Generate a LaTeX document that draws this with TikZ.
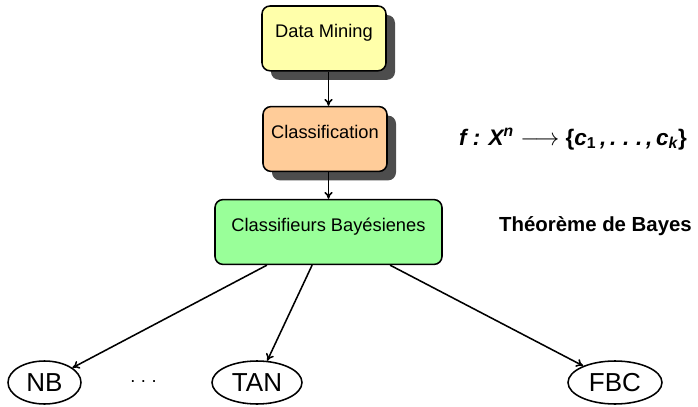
\documentclass[tikz,border=0pt]{standalone}
\usepackage{fontspec}
\setmainfont{Liberation Sans}
\usepackage{xcolor}
\definecolor{jaunecl}{RGB}{255, 255, 170}
\definecolor{pechecl}{RGB}{255, 204, 153}
\definecolor{vertcl}{RGB}{153, 255, 153}
\definecolor{ombre}{RGB}{77, 77, 77}
\usepackage{tikz}
\usetikzlibrary{shapes, arrows, positioning, arrows.meta, shadows}
\newcommand{\B}[1]{\textbf{#1}}

\begin{document}
\begin{tikzpicture}[
        boite/.style={draw, line width=1.1pt, rounded corners=0.2cm, minimum width=3.1cm,
            text height=0.33cm, text depth=0.35cm, inner ysep=0.47cm, font=\fontsize{13}{15}\selectfont},
        ombree/.style={drop shadow={shadow xshift=0.225cm, shadow yshift=-0.225cm, fill=ombre, opacity=1}},
        feuille/.style={draw, ellipse, line width=1.1pt, inner sep=0pt, minimum height=1.075cm,
            font=\fontsize{18.5}{20}\selectfont},
        fleche/.style={-{To[length=5pt,width=6pt]}, line width=1.1pt}]
        \useasboundingbox (0,0) rectangle (17.45,10.15);
        % Boites du haut
        \node[boite, ombree, fill=jaunecl] (mining) at (8.10, 9.19) {Data Mining};
        \node[boite, ombree, fill=pechecl] (classif) at (8.125, 6.675) {Classification};
        \node[boite, fill=vertcl, minimum width=5.675cm] (bayes) at (8.2125, 4.35) {Classifieurs Bayésienes};
        % Textes a droite
        \node (fonction) at (14.325, 6.68) {\fontsize{16}{18}\selectfont\B{\itshape f : X\textsuperscript{n} $\longrightarrow$ {\upshape\{}c\textsubscript{\upshape 1}\,,\,.\hspace{0.3em}.\hspace{0.3em}.\,,\,c\textsubscript{k}{\upshape\}}}};
        \node (theoreme) at (14.8875, 4.5) {\fontsize{14.5}{16}\selectfont\B{Théorème de Bayes}};
        % Feuilles
        \node[feuille, minimum width=1.825cm] (nb) at (1.1125, 0.5875) {NB};
        \node (points) at (3.5875, 0.6) {\fontsize{13}{15}\selectfont .\hspace{0.3em}.\hspace{0.3em}.};
        \node[feuille, minimum width=2.25cm] (tan) at (6.425, 0.5875) {TAN};
        \node[feuille, minimum width=2.35cm] (fbc) at (15.375, 0.5875) {FBC};
        % Fleches
        \draw[fleche] (mining.south -| bayes.north) -- (classif.north -| bayes.north);
        \draw[fleche] (classif.south -| bayes.north) -- (bayes.north);
        \draw[fleche] ([xshift=-1.54cm]bayes.south) -- (nb);
        \draw[fleche] ([xshift=-0.41cm]bayes.south) -- (tan);
        \draw[fleche] ([xshift=1.54cm]bayes.south) -- (fbc);
    \end{tikzpicture}
\end{document}
